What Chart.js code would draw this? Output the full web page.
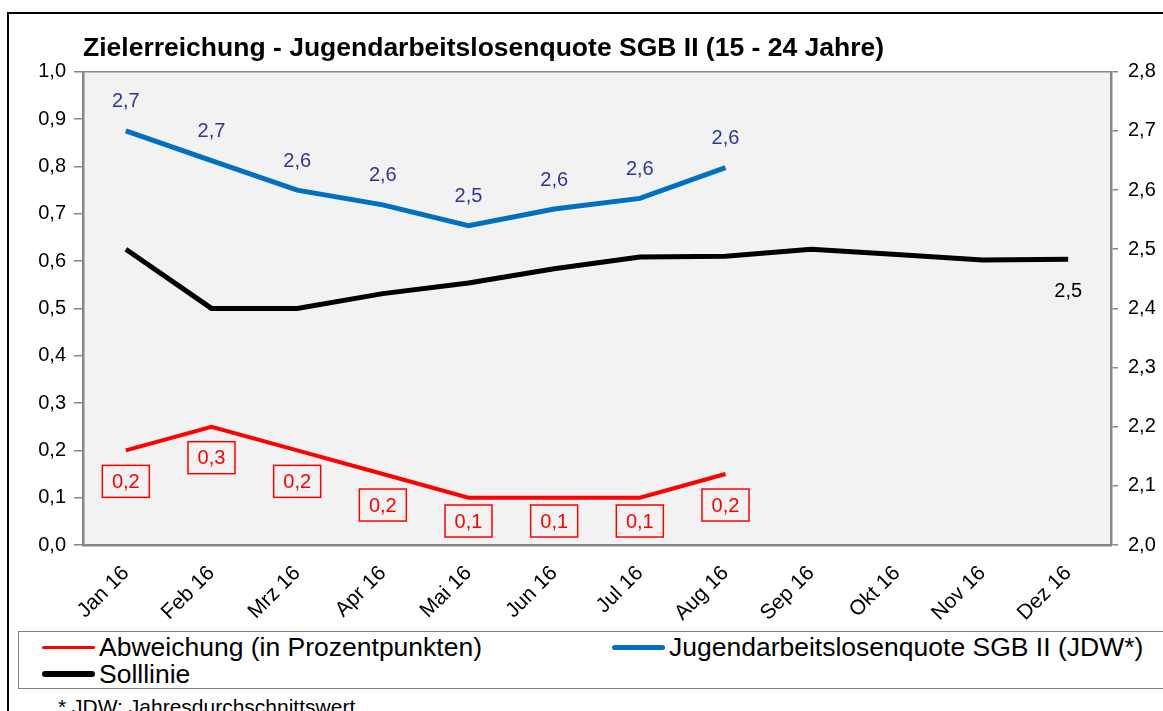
<!DOCTYPE html>
<html>
<head>
<meta charset="utf-8">
<script src="https://cdn.jsdelivr.net/npm/chart.js@4.4.1/dist/chart.umd.min.js"></script>
<style>
  body{margin:0;background:#fff;font-family:"Liberation Sans",Arial,sans-serif;overflow:hidden;width:1163px;height:711px;position:relative}
  #frame{position:absolute;left:7px;top:12px;width:1200px;height:760px;border:2px solid #000;box-sizing:border-box}
  #wrap{position:absolute;left:0;top:0;width:1163px;height:628px}
  #legend{position:absolute;left:18px;top:631px;width:1200px;height:58px;border:1.5px solid #7f7f7f;box-sizing:border-box}
  .item{position:absolute;display:flex;align-items:center;font-size:26.5px;line-height:28px;color:#000;white-space:nowrap}
  .item i{display:inline-block;width:53px;border-radius:3px;margin-right:4px}
  #note{position:absolute;left:58px;top:695px;font-size:21px;color:#000}
</style>
</head>
<body>
<div id="frame"></div>
<div id="wrap"><canvas id="myChart"></canvas></div>
<div id="legend"></div>
<div id="note">* JDW: Jahresdurchschnittswert</div>
<script>
const months=["Jan 16","Feb 16","Mrz 16","Apr 16","Mai 16","Jun 16","Jul 16","Aug 16","Sep 16","Okt 16","Nov 16","Dez 16"];
const abweichung=[0.2,0.25,0.2,0.15,0.1,0.1,0.1,0.15];
const quote=[2.70,2.65,2.60,2.575,2.54,2.568,2.586,2.638];
const solllinie=[2.50,2.40,2.40,2.425,2.443,2.467,2.487,2.488,2.50,2.491,2.482,2.483];
const leftTicks=[0,0.1,0.2,0.3,0.4,0.5,0.6,0.7,0.8,0.9,1.0];
const rightTicks=[2.0,2.1,2.2,2.3,2.4,2.5,2.6,2.7,2.8];

const names=["Abweichung (in Prozentpunkten)","Jugendarbeitslosenquote SGB II (JDW*)","Solllinie"];
const colors=["#ff0000","#0070c0","#000000"];
const markerH=[3,5,6];

// one decimal, half rounded up, German comma
const fmt=v=>(Math.round(v*10+1e-6)/10).toFixed(1).replace(".",",");
const axisGrey="#868686";
const FONT='"Liberation Sans", Arial, sans-serif';

const plotBg={
  id:"plotBg",
  beforeDraw(chart){
    const {ctx,chartArea:a}=chart;
    ctx.save();
    ctx.fillStyle="#f2f2f2";
    ctx.fillRect(a.left,a.top,a.right-a.left,a.bottom-a.top);
    ctx.strokeStyle=axisGrey;
    ctx.lineWidth=1.5;
    ctx.beginPath();
    ctx.moveTo(a.left,a.top);ctx.lineTo(a.right,a.top);
    ctx.stroke();
    ctx.restore();
  }
};

const valueLabels={
  id:"valueLabels",
  afterDatasetsDraw(chart){
    const ctx=chart.ctx;
    const bottom=chart.chartArea.bottom;
    ctx.save();
    ctx.font='20px '+FONT;
    ctx.textAlign="center";
    ctx.textBaseline="middle";
    // Abweichung: boxed labels below the points, kept inside the plot
    chart.getDatasetMeta(0).data.forEach((p,i)=>{
      const cx=p.x, cy=Math.min(p.y+31,bottom-24);
      ctx.strokeStyle="#ff0000";
      ctx.lineWidth=1.5;
      ctx.strokeRect(cx-23.5,cy-16,47,32);
      ctx.fillStyle="#ff0000";
      ctx.fillText(fmt(abweichung[i]),cx,cy+1);
    });
    // Quote: labels above the points
    ctx.fillStyle="#333399";
    chart.getDatasetMeta(1).data.forEach((p,i)=>{
      ctx.fillText(fmt(quote[i]),p.x,p.y-29);
    });
    // Solllinie: last value only
    const sm=chart.getDatasetMeta(2).data;
    const last=sm[sm.length-1];
    ctx.fillStyle="#000";
    ctx.fillText(fmt(solllinie[solllinie.length-1]),last.x,last.y+32);
    ctx.restore();
  }
};

const ctx=document.getElementById("myChart").getContext("2d");
const myChart=new Chart(ctx,{
  type:"line",
  data:{
    labels:months,
    datasets:[
      {label:names[0],data:abweichung,borderColor:colors[0],borderWidth:4,yAxisID:"y",pointRadius:0,tension:0},
      {label:names[1],data:quote,borderColor:colors[1],borderWidth:5,yAxisID:"y1",pointRadius:0,tension:0},
      {label:names[2],data:solllinie,borderColor:colors[2],borderWidth:5,yAxisID:"y1",pointRadius:0,tension:0}
    ]
  },
  options:{
    responsive:true,
    maintainAspectRatio:false,
    animation:false,
    layout:{padding:{top:33,left:0,right:0,bottom:0}},
    plugins:{
      legend:{display:false},
      tooltip:{enabled:false},
      title:{
        display:true,
        text:"Zielerreichung - Jugendarbeitslosenquote SGB II (15 - 24 Jahre)",
        align:"start",
        fullSize:false,
        color:"#000",
        font:{family:FONT,size:26.5,weight:"bold"},
        padding:{top:0,bottom:7}
      }
    },
    scales:{
      x:{
        offset:true,
        grid:{display:false},
        border:{display:true,color:axisGrey,width:2.5},
        ticks:{color:"#000",font:{family:FONT,size:21},minRotation:45,maxRotation:45,autoSkip:false,padding:8},
        afterFit(s){s.height=83;}
      },
      y:{
        position:"left",
        min:0,max:1,
        afterBuildTicks(s){s.ticks=leftTicks.map(v=>({value:v}));},
        grid:{drawOnChartArea:false,drawTicks:true,tickLength:9,color:axisGrey,lineWidth:1.5},
        border:{display:true,color:axisGrey,width:2.5},
        ticks:{color:"#000",font:{family:FONT,size:20},padding:8,callback:v=>fmt(v)},
        afterFit(s){s.width=83;}
      },
      y1:{
        position:"right",
        min:2.0,max:2.8,
        afterBuildTicks(s){s.ticks=rightTicks.map(v=>({value:v}));},
        grid:{drawOnChartArea:false,drawTicks:true,tickLength:7,color:axisGrey,lineWidth:1.5},
        border:{display:true,color:axisGrey,width:2.5},
        ticks:{color:"#000",font:{family:FONT,size:20},padding:10,callback:v=>fmt(v)},
        afterFit(s){s.width=52;}
      }
    }
  },
  plugins:[plotBg,valueLabels]
});

// legend built from the dataset names and colours
const legendPos=[[23,1],[593,1],[23,28]];
const legend=document.getElementById("legend");
names.forEach((n,i)=>{
  const d=document.createElement("div");
  d.className="item";
  d.style.left=legendPos[i][0]+"px";
  d.style.top=legendPos[i][1]+"px";
  d.innerHTML='<i style="background:'+colors[i]+';height:'+markerH[i]+'px"></i>'+n;
  legend.appendChild(d);
});
</script>
</body>
</html>
